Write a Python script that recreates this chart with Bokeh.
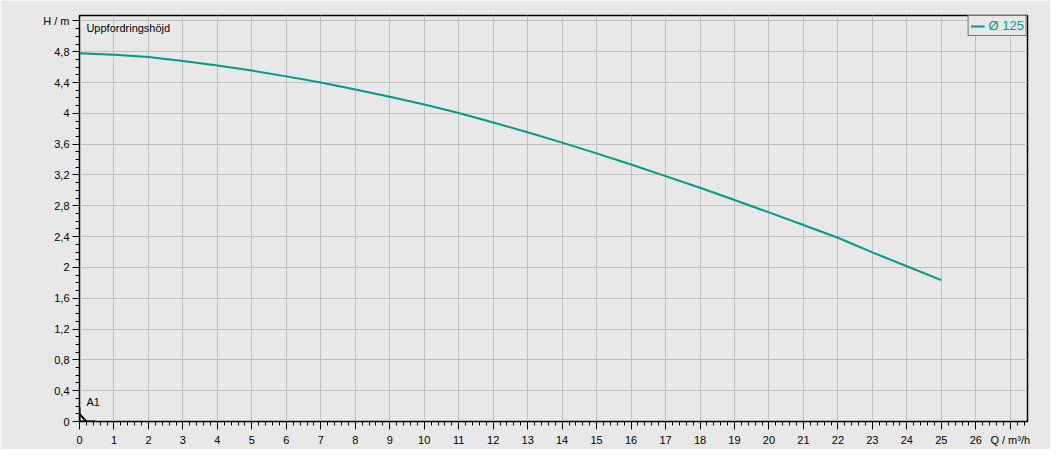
from bokeh.plotting import figure
from bokeh.models import (Range1d, FixedTicker, CustomJSTickFormatter, Label,
                          Legend, LegendItem, ColumnDataSource)
from bokeh.embed import file_html
from bokeh.resources import INLINE

# ---- data ----
q_values = [0, 1, 2, 3, 4, 5, 6, 7, 8, 9, 10, 11, 12, 13, 14, 15, 16, 17, 18,
            19, 20, 21, 22, 23, 24, 25]
h_values = [4.78, 4.76, 4.73, 4.68, 4.62, 4.555, 4.48, 4.40, 4.31, 4.215, 4.115,
            4.005, 3.88, 3.755, 3.62, 3.48, 3.335, 3.185, 3.035, 2.875, 2.715,
            2.55, 2.385, 2.195, 2.015, 1.835]
series_name = "Ø 125"
x_title = "Q / m³/h"
y_title = "H / m"
x_major_ticks = list(range(0, 28))
x_minor_ticks = [round(i * 0.2, 1) for i in range(0, 138)]
y_major_ticks = [round(i * 0.4, 1) for i in range(0, 14)]
y_minor_ticks = [round(i * 0.1, 1) for i in range(0, 53)]
# A1 marker segments
a1_x0 = [0, 0, 0]
a1_y0 = [0, 0.1, 0]
a1_x1 = [0, 0.2, 0.46]
a1_y1 = [0.185, 0, 0]

BG = "#e8e8e8"
TEAL = "#009b84"
FONT = "Liberation Sans"

p = figure(width=1050, height=449, output_backend="svg", toolbar_location=None,
           x_range=Range1d(0, 27.5), y_range=Range1d(0, 5.27),
           min_border_left=79, min_border_right=23, min_border_top=15,
           min_border_bottom=28)
p.background_fill_color = BG
p.border_fill_color = BG
p.outline_line_color = "black"
p.outline_line_width = 1.5

# axes
p.xaxis.ticker = FixedTicker(ticks=x_major_ticks, minor_ticks=x_minor_ticks)
p.yaxis.ticker = FixedTicker(ticks=y_major_ticks, minor_ticks=y_minor_ticks)
p.xaxis.formatter = CustomJSTickFormatter(args=dict(t=x_title), code="""
    if (tick > 26.5) return t;
    return Math.round(tick).toString();
""")
p.yaxis.formatter = CustomJSTickFormatter(args=dict(t=y_title), code="""
    if (Math.abs(tick - 5.2) < 1e-6) return t;
    return (Math.round(tick * 10) / 10).toString().replace('.', ',');
""")
for ax in (p.xaxis[0], p.yaxis[0]):
    ax.axis_line_color = "black"
    ax.axis_line_width = 1
    ax.major_tick_line_color = "black"
    ax.minor_tick_line_color = "black"
    ax.major_tick_line_width = 1
    ax.minor_tick_line_width = 1
    ax.major_tick_in = 0
    ax.minor_tick_in = 0
    ax.minor_tick_out = 4
    ax.major_label_text_font = FONT
    ax.major_label_text_font_size = "11px"
    ax.major_label_text_color = "black"
p.xaxis.major_tick_out = 8
p.yaxis.major_tick_out = 7
p.xaxis.major_label_standoff = 4
p.yaxis.major_label_standoff = 3

p.xgrid.grid_line_color = "#c0c0c0"
p.ygrid.grid_line_color = "#c0c0c0"
p.xgrid.grid_line_width = 1
p.ygrid.grid_line_width = 1

# curve
src = ColumnDataSource(dict(q=q_values, h=h_values))
line = p.line("q", "h", source=src, line_color=TEAL, line_width=2)

# A1 marker
p.segment(a1_x0, a1_y0, a1_x1, a1_y1, line_color="black", line_width=2)

# legend
legend = Legend(items=[LegendItem(label=series_name, renderers=[line])],
                location="top_right", margin=0, padding=2, spacing=0,
                glyph_width=14, glyph_height=14, label_standoff=4,
                label_text_font=FONT, label_text_font_size="13px",
                label_text_color=TEAL, border_line_color="black",
                border_line_width=1.5, background_fill_color=BG,
                background_fill_alpha=1.0, label_height=14)
p.add_layout(legend)

# texts inside the frame
def lab(x, y, text, size="11px"):
    p.add_layout(Label(x=x, y=y, text=text, text_align="left",
                       text_baseline="middle", text_font=FONT,
                       text_font_size=size, text_color="black"))

lab(0.2, 5.11, "Uppfordringshöjd")
lab(0.2, 0.25, "A1")

html = file_html(p, INLINE)
html = html.replace("<body>", '<body style="margin:0;background-color:#e8e8e8;">', 1)
open("out.html", "w").write(html)
